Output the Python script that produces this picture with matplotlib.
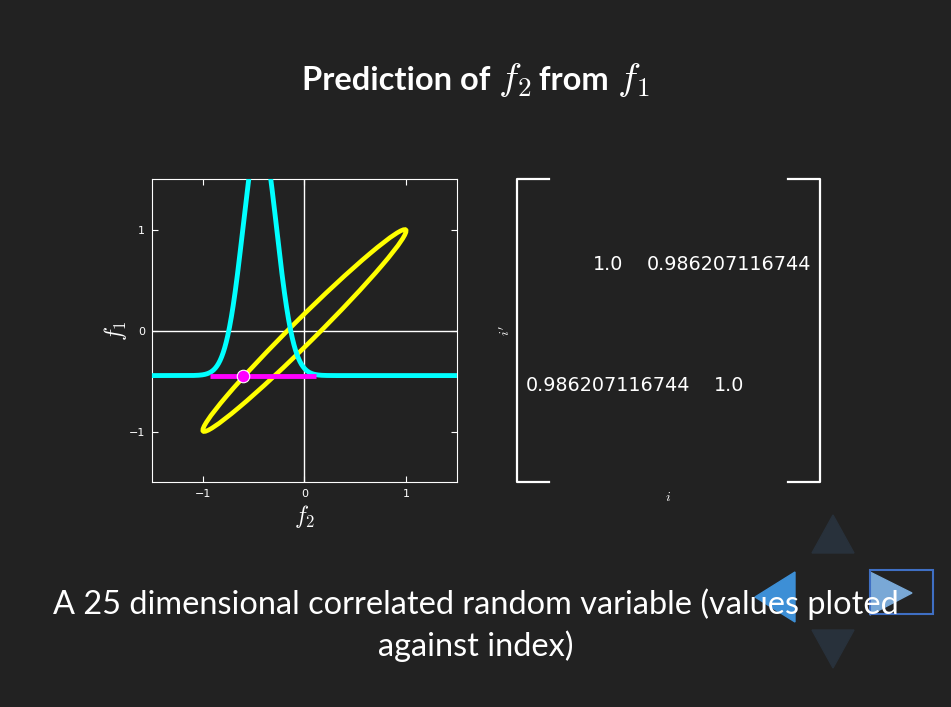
import numpy as np
import matplotlib
matplotlib.use("Agg")
import matplotlib.pyplot as plt
from matplotlib.patches import Ellipse, Polygon, Rectangle

# ---- data ----
rho = 0.986207116744                     # correlation between f1 and f2
corr_labels = [["1.0", "0.986207116744"],
               ["0.986207116744", "1.0"]]
f1_observed = -0.446                     # observed value of f1
f2_sample = -0.60                        # sampled prediction of f2
pred_range = [-0.93, 0.11]               # magenta interval on f2
ticks = [-1, 0, 1]
title_parts = ["Prediction of ", r"$f_2$", " from ", r"$f_1$"]
caption = "A 25 dimensional correlated random variable (values ploted\nagainst index)"

BG = "#222222"
plt.rcParams["mathtext.fontset"] = "cm"

fig = plt.figure(figsize=(9.51, 7.07), dpi=100, facecolor=BG)
renderer = fig.canvas.get_renderer()

# title, built from pieces so the math glyphs can be larger
pieces = []
for p in title_parts:
    is_math = p.startswith("$")
    t = fig.text(0, 0.889, p, ha="left", va="baseline", color="white",
                 fontsize=28 if is_math else 23.5, fontweight="bold", family="Lato")
    pieces.append(t)
widths = [t.get_window_extent(renderer).width for t in pieces]
total = sum(widths)
x = (951 - total) / 2
for t, w in zip(pieces, widths):
    t.set_x(x / 951)
    t.set_y(1 - 90 / 707)
    x += w

# ---- left axes ----
ax = fig.add_axes([0.1598, 0.3182, 0.3207, 0.4286])
ax.set_facecolor(BG)
ax.set_xlim(-1.5, 1.5)
ax.set_ylim(-1.5, 1.5)
ax.axhline(0, color="white", lw=1, zorder=1)
ax.axvline(0, color="white", lw=1, zorder=1)

ell = Ellipse((0, 0), width=2 * np.sqrt(1 + rho), height=2 * np.sqrt(1 - rho),
              angle=45, fill=False, edgecolor="#ffff00", lw=3.3, zorder=3)
ax.add_patch(ell)

cond_mean = rho * f1_observed
cond_std = np.sqrt(1 - rho ** 2)
xs = np.linspace(-1.5, 1.5, 1200)
dens = np.exp(-0.5 * ((xs - cond_mean) / cond_std) ** 2) / (cond_std * np.sqrt(2 * np.pi))
ax.plot(xs, f1_observed + dens, color="#00ffff", lw=3.5, zorder=4, solid_capstyle="butt")
ax.plot(pred_range, [f1_observed, f1_observed], color="#ff00ff", lw=3.5, zorder=5,
        solid_capstyle="butt")
ax.plot([f2_sample], [f1_observed], "o", color="#ff00ff", mec="white", mew=0.8,
        ms=9, zorder=6)

ax.set_xticks(ticks)
ax.set_yticks(ticks)
ax.tick_params(direction="in", top=True, right=True, colors="white", labelsize=8,
               length=4, width=0.8, pad=5)
for s in ax.spines.values():
    s.set_color("white")
ax.set_xlabel(r"$f_2$", color="white", fontsize=17, labelpad=3)
ax.set_ylabel(r"$f_1$", color="white", fontsize=17, labelpad=0)

# ---- right axes: correlation matrix ----
ax2 = fig.add_axes([0.5436, 0.3182, 0.3186, 0.4286])
ax2.set_facecolor(BG)
ax2.set_xlim(-0.75, 1.75)
ax2.set_ylim(1.75, -0.75)
for s in ax2.spines.values():
    s.set_visible(False)
ax2.set_xticks([])
ax2.set_yticks([])
for r, row in enumerate(corr_labels):
    for c, lab in enumerate(row):
        ax2.text(c, r, lab, ha="center", va="baseline", color="white", fontsize=13.8)
tr = ax2.transAxes
ax2.plot([0.105, 0, 0, 0.105], [1, 1, 0, 0], color="white", lw=1.6, transform=tr,
         clip_on=False)
ax2.plot([0.895, 1, 1, 0.895], [1, 1, 0, 0], color="white", lw=1.6, transform=tr,
         clip_on=False)
ax2.set_xlabel(r"$i$", color="white", fontsize=10, labelpad=6)
ax2.set_ylabel(r"$i'$", color="white", fontsize=10, labelpad=3)

# ---- caption ----
fig.text(0.5, 0.116, caption, ha="center", va="center", color="white", fontsize=23.4,
         family="Lato", linespacing=1.42)

# ---- navigation arrows (slide controls) ----
W, H = 951, 707
def P(pts):
    return [(x / W, 1 - y / H) for x, y in pts]
fig.patches.append(Polygon(P([(812, 553), (854, 553), (833, 515)]), closed=True,
                           transform=fig.transFigure, color="#28313b", zorder=0))
fig.patches.append(Polygon(P([(812, 630), (854, 630), (833, 668)]), closed=True,
                           transform=fig.transFigure, color="#28313b", zorder=0))
fig.patches.append(Polygon(P([(755, 597), (795, 572), (795, 622)]), closed=True,
                           transform=fig.transFigure, color="#3d8fd6", zorder=0))
fig.patches.append(Polygon(P([(870, 572), (870, 615), (912, 593)]), closed=True,
                           transform=fig.transFigure, color="#79a8d6", zorder=0))
fig.patches.append(Rectangle((870 / W, 1 - 614 / H), 63 / W, 44 / H, fill=False,
                             transform=fig.transFigure, edgecolor="#3f6fc4", lw=1.5,
                             zorder=0))

fig.savefig("out.png", dpi=100, facecolor=BG)
